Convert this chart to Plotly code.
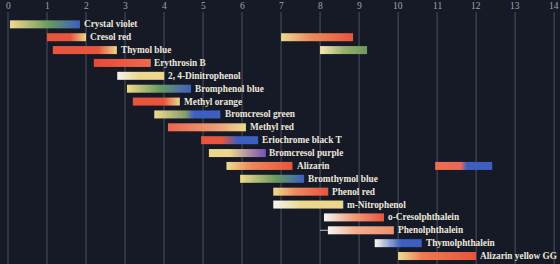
import numpy as np
import plotly.graph_objects as go

# ---- data ----
indicators = ["Crystal violet", "Cresol red", "Thymol blue", "Erythrosin B",
              "2, 4-Dinitrophenol", "Bromphenol blue", "Methyl orange",
              "Bromcresol green", "Methyl red", "Eriochrome black T",
              "Bromcresol purple", "Alizarin", "Bromthymol blue", "Phenol red",
              "m-Nitrophenol", "o-Cresolphthalein", "Phenolphthalein",
              "Thymolphthalein", "Alizarin yellow GG"]
range1_start = [0.05, 1.0, 1.15, 2.2, 2.8, 3.05, 3.2, 3.75, 4.1, 4.95, 5.15, 5.6,
                5.95, 6.8, 6.8, 8.1, 8.2, 9.4, 10.0]
range1_end = [1.85, 2.0, 2.8, 3.65, 4.0, 4.7, 4.4, 5.45, 6.1, 6.4, 6.6, 7.3,
              7.6, 8.2, 8.6, 9.65, 9.9, 10.6, 12.0]
# second transition ranges (indicator index, start, end)
range2_index = [1, 2, 11]
range2_start = [7.0, 8.0, 10.95]
range2_end = [8.85, 9.2, 12.4]
tick_values = list(range(0, 15))

# ---- colour styles ----
RED = "#e8553d"
YEL = "#ecd88c"
BLU = "#3d5fc2"
GRN = "#6a9a5c"
WHT = "#f4f2ec"
PUR = "#7a52b4"
SAL = "#ef8f6e"

styles1 = [
    [(0, YEL), (0.55, GRN), (1, BLU)],
    [(0, RED), (0.6, RED), (1, YEL)],
    [(0, RED), (0.7, RED), (1, YEL)],
    [(0, "#e54a36"), (1, "#ee6a4c")],
    [(0, WHT), (0.45, YEL), (1, YEL)],
    [(0, YEL), (0.5, GRN), (1, BLU)],
    [(0, RED), (0.65, RED), (1, YEL)],
    [(0, YEL), (0.45, "#8aa06a"), (0.6, BLU), (1, BLU)],
    [(0, "#ea6a4c"), (0.6, "#ef9a74"), (1, YEL)],
    [(0, RED), (0.35, RED), (0.65, BLU), (1, BLU)],
    [(0, YEL), (0.35, YEL), (1, PUR)],
    [(0, YEL), (0.35, "#ee8a5c"), (1, RED)],
    [(0, YEL), (0.55, GRN), (1, BLU)],
    [(0, YEL), (0.4, "#ee8a5c"), (1, RED)],
    [(0, WHT), (0.4, YEL), (1, YEL)],
    [(0, WHT), (0.45, "#f0a080"), (1, RED)],
    [(0, WHT), (0.4, "#f2b090"), (1, SAL)],
    [(0, WHT), (0.55, BLU), (1, BLU)],
    [(0, YEL), (0.3, "#ee7a50"), (1, RED)],
]
styles2 = [
    [(0, YEL), (0.4, "#ee8a5c"), (1, RED)],
    [(0, "#f2e6b0"), (0.5, "#9aae6e"), (1, GRN)],
    [(0, "#ef6e4e"), (0.45, "#e86a5a"), (0.55, BLU), (1, BLU)],
]

BAR_H = 0.62
N = 40

fig = go.Figure()


def add_bar(row, x0, x1, stops):
    dx = (x1 - x0) / N
    vals = list(np.linspace(0, 1, N))
    fig.add_trace(go.Heatmap(
        z=[vals, vals], x0=x0 + dx / 2, dx=dx,
        y0=row - BAR_H / 4, dy=BAR_H / 2,
        colorscale=[[s, c] for s, c in stops], zmin=0, zmax=1,
        zsmooth="best", showscale=False, hoverinfo="skip"))


for i, name in enumerate(indicators):
    add_bar(i, range1_start[i], range1_end[i], styles1[i])
for k, idx in enumerate(range2_index):
    add_bar(idx, range2_start[k], range2_end[k], styles2[k])

# phenolphthalein whisker
ph = indicators.index("Phenolphthalein")
fig.add_trace(go.Scatter(x=[8.0, range1_start[ph]], y=[ph, ph], mode="lines",
                         line=dict(color="#c8c4bc", width=1), hoverinfo="skip",
                         showlegend=False))

annotations = []
for i, name in enumerate(indicators):
    annotations.append(dict(x=range1_end[i], y=i, text="<b>%s</b>" % name,
                            showarrow=False, xanchor="left", yanchor="middle",
                            xshift=2,
                            font=dict(family="Liberation Serif", size=9.3,
                                      color="#ece7dc")))
for t in tick_values:
    annotations.append(dict(x=t, y=1, yref="paper", text=str(t), showarrow=False,
                            xanchor="center", yanchor="top", yshift=1,
                            font=dict(family="Liberation Serif", size=9.5,
                                      color="#a0a4b0")))

shapes = []
for t in tick_values:
    shapes.append(dict(type="line", x0=t, x1=t, xref="x", yref="paper",
                       y0=0, y1=1 - 12 / 264, layer="below",
                       line=dict(color="#4c515f", width=1)))

fig.update_layout(
    width=560, height=264, margin=dict(l=0, r=0, t=0, b=0),
    paper_bgcolor="#161a27", plot_bgcolor="#161a27",
    xaxis=dict(range=[-0.205, 14.15], visible=False, showgrid=False, zeroline=False),
    yaxis=dict(range=[18.62, -1.89], visible=False, showgrid=False, zeroline=False),
    showlegend=False, annotations=annotations, shapes=shapes,
)

fig.write_html("out.html")
